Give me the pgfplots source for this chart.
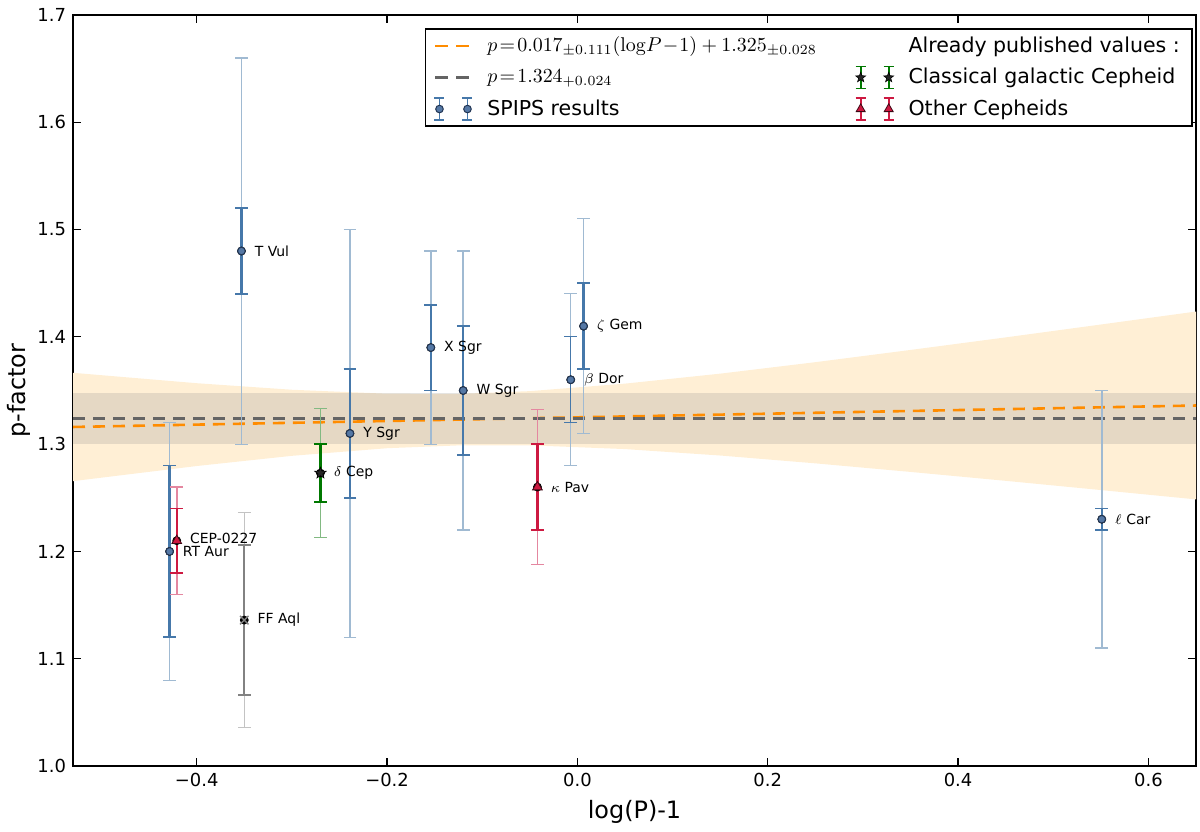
\documentclass[border=0pt]{standalone}
\usepackage[no-math]{fontspec}
\setmainfont{DejaVu Sans}
\usepackage{pgfplots}
\pgfplotsset{compat=1.18}
\usepackage{pgfplotstable}
\usetikzlibrary{calc}

\definecolor{spipsDark}{RGB}{70,120,170}
\definecolor{spipsLight}{RGB}{160,186,210}
\definecolor{spipsMark}{RGB}{85,120,165}
\definecolor{spipsEdge}{RGB}{35,55,85}
\definecolor{crimDark}{RGB}{205,25,65}
\definecolor{crimLight}{RGB}{228,135,160}
\definecolor{grnDark}{RGB}{0,120,0}
\definecolor{grnLight}{RGB}{130,185,130}
\definecolor{gryDark}{RGB}{130,130,130}
\definecolor{gryLight}{RGB}{195,195,195}
\definecolor{dorange}{RGB}{255,140,0}
\definecolor{dimgrey}{RGB}{100,100,100}
\definecolor{bandOrange}{RGB}{255,239,213}

\pgfdeclareplotmark{fstar}{%
  \pgfpathmoveto{\pgfpointpolar{90}{\pgfplotmarksize}}%
  \pgfpathlineto{\pgfpointpolar{126}{0.42\pgfplotmarksize}}%
  \pgfpathlineto{\pgfpointpolar{162}{\pgfplotmarksize}}%
  \pgfpathlineto{\pgfpointpolar{198}{0.42\pgfplotmarksize}}%
  \pgfpathlineto{\pgfpointpolar{234}{\pgfplotmarksize}}%
  \pgfpathlineto{\pgfpointpolar{270}{0.42\pgfplotmarksize}}%
  \pgfpathlineto{\pgfpointpolar{306}{\pgfplotmarksize}}%
  \pgfpathlineto{\pgfpointpolar{342}{0.42\pgfplotmarksize}}%
  \pgfpathlineto{\pgfpointpolar{18}{\pgfplotmarksize}}%
  \pgfpathlineto{\pgfpointpolar{54}{0.42\pgfplotmarksize}}%
  \pgfpathclose\pgfusepathqfillstroke}

% SPIPS results: x = log(P)-1, p-factor, inner (stat) error, outer (total) error
\pgfplotstableread{
x y ei eo
-0.353 1.48 0.04 0.18
-0.239 1.31 0.06 0.19
-0.154 1.39 0.04 0.09
-0.120 1.35 0.06 0.13
0.0065 1.41 0.04 0.10
0.551 1.23 0.01 0.12
-0.4285 1.20 0.08 0.12
}\spips
\pgfplotstableread{
x y ei eo
-0.007 1.36 0.04 0.08
}\bdor
\pgfplotstableread{
x y ei eo
-0.421 1.21 0.03 0.05
-0.042 1.26 0.04 0.072
}\other
\pgfplotstableread{
x y ei eo
-0.270 1.273 0.027 0.06
}\classical
\pgfplotstableread{
x y ei eo
-0.350 1.136 0.07 0.10
}\ffaql

\newcommand\onebar[2]{%
  \draw[#2, line width=0.9bp] (#1,-5.5bp) -- (#1,5.5bp);
  \draw[#2, line width=0.9bp] (#1-2.5bp,-5.5bp) -- (#1+2.5bp,-5.5bp);
  \draw[#2, line width=0.9bp] (#1-2.5bp,5.5bp) -- (#1+2.5bp,5.5bp);}

\begin{document}
\begin{tikzpicture}
\begin{axis}[
  scale only axis, width=561.5bp, height=375.5bp,
  xmin=-0.53, xmax=0.65, ymin=1.0, ymax=1.7,
  xtick={-0.4,-0.2,0,0.2,0.4,0.6},
  xticklabels={−0.4,−0.2,0.0,0.2,0.4,0.6},
  ytick={1.0,1.1,1.2,1.3,1.4,1.5,1.6,1.7},
  yticklabels={1.0,1.1,1.2,1.3,1.4,1.5,1.6,1.7},
  tick label style={font=\fontsize{9}{10}\selectfont},
  major tick length=4bp,
  tick style={black, line width=0.6bp},
  axis line style={line width=1.1bp},
  tick align=inside,
  xlabel={log(P)-1}, ylabel={p-factor},
  label style={font=\fontsize{12}{14}\selectfont},
  xlabel style={at={(axis description cs:0.5,-0.0613)}, anchor=center},
  ylabel style={at={(axis description cs:-0.048,0.5)}, anchor=center},
  legend columns=2,
  legend cell align=left,
  legend style={at={(rel axis cs:0.997,0.983)}, anchor=north east,
    draw=black, line width=0.9bp, font=\fontsize{10.3}{12}\selectfont,
    inner xsep=4bp, inner ysep=2bp, row sep=2.5bp,
    /tikz/every even column/.append style={column sep=17bp},
    /tikz/every odd column/.append style={column sep=5bp}},
]
% confidence band of the linear fit
\addplot[fill=bandOrange, draw=none, forget plot] coordinates {
(-0.53,1.3665) (-0.4,1.3568) (-0.3,1.3507) (-0.2,1.3470) (-0.1226,1.3469)
(-0.05,1.3494) (0.05,1.3564) (0.15,1.3657) (0.25,1.3764) (0.35,1.3878)
(0.45,1.3995) (0.55,1.4115) (0.65,1.4236)
(0.65,1.2485) (0.55,1.2572) (0.45,1.2658) (0.35,1.2741) (0.25,1.2821)
(0.15,1.2894) (0.05,1.2954) (-0.05,1.2989) (-0.1226,1.2989) (-0.2,1.2962)
(-0.3,1.2891) (-0.4,1.2796) (-0.53,1.2655)} -- cycle;
% band of the constant
\addplot[fill=gray, fill opacity=0.2, draw=none, forget plot] coordinates {
(-0.53,1.300) (0.65,1.300) (0.65,1.348) (-0.53,1.348)} -- cycle;
% lines
\addplot[dorange, line width=1.3bp, dash pattern=on 6bp off 4bp, forget plot] coordinates {(-0.53,1.316) (0.65,1.336)};
\addplot[dimgrey, line width=1.3bp, dash pattern=on 6bp off 4bp, forget plot] coordinates {(-0.53,1.324) (0.65,1.324)};

% FF Aql
\addplot[only marks, mark=none, forget plot,
  error bars/.cd, y dir=both, y explicit,
  error bar style={line width=0.8bp, gryLight},
  error mark options={rotate=90, mark size=3.2bp, line width=0.6bp, gryLight}]
  table[x=x, y=y, y error=eo] {\ffaql};
\addplot[only marks, mark=x, mark size=3bp, mark options={gryDark, line width=0.7bp}, forget plot,
  error bars/.cd, y dir=both, y explicit,
  error bar style={line width=1bp, gryDark},
  error mark options={rotate=90, mark size=3.2bp, line width=0.8bp, gryDark}]
  table[x=x, y=y, y error=ei] {\ffaql};

% SPIPS
\addplot[only marks, mark=none, forget plot,
  error bars/.cd, y dir=both, y explicit,
  error bar style={line width=0.8bp, spipsLight},
  error mark options={rotate=90, mark size=3.2bp, line width=0.6bp, spipsLight}]
  table[x=x, y=y, y error=eo] {\spips};
\addplot[only marks, mark=*, mark size=1.9bp, mark options={fill=spipsMark, draw=spipsEdge, line width=0.5bp}, forget plot,
  error bars/.cd, y dir=both, y explicit,
  error bar style={line width=1.1bp, spipsDark},
  error mark options={rotate=90, mark size=3.2bp, line width=0.9bp, spipsDark}]
  table[x=x, y=y, y error=ei] {\spips};
\addplot[only marks, mark=none, forget plot,
  error bars/.cd, y dir=both, y explicit,
  error bar style={line width=0.6bp, spipsLight},
  error mark options={rotate=90, mark size=3.2bp, line width=0.5bp, spipsLight}]
  table[x=x, y=y, y error=eo] {\bdor};
\addplot[only marks, mark=*, mark size=1.9bp, mark options={fill=spipsMark, draw=spipsEdge, line width=0.5bp}, forget plot,
  error bars/.cd, y dir=both, y explicit,
  error bar style={line width=0.6bp, spipsDark},
  error mark options={rotate=90, mark size=3.2bp, line width=0.6bp, spipsDark}]
  table[x=x, y=y, y error=ei] {\bdor};

% classical galactic Cepheid
\addplot[only marks, mark=none, forget plot,
  error bars/.cd, y dir=both, y explicit,
  error bar style={line width=0.8bp, grnLight},
  error mark options={rotate=90, mark size=3.2bp, line width=0.6bp, grnLight}]
  table[x=x, y=y, y error=eo] {\classical};
\addplot[only marks, mark=fstar, mark size=3bp, mark options={fill=black!85, draw=black, line width=0.3bp}, forget plot,
  error bars/.cd, y dir=both, y explicit,
  error bar style={line width=1.1bp, grnDark},
  error mark options={rotate=90, mark size=3.2bp, line width=0.9bp, grnDark}]
  table[x=x, y=y, y error=ei] {\classical};

% other Cepheids
\addplot[only marks, mark=none, forget plot,
  error bars/.cd, y dir=both, y explicit,
  error bar style={line width=0.8bp, crimLight},
  error mark options={rotate=90, mark size=3.2bp, line width=0.6bp, crimLight}]
  table[x=x, y=y, y error=eo] {\other};
\addplot[only marks, mark=triangle*, mark size=2.8bp, mark options={fill=crimDark, draw=black!70!crimDark, line width=0.4bp}, forget plot,
  error bars/.cd, y dir=both, y explicit,
  error bar style={line width=1.1bp, crimDark},
  error mark options={rotate=90, mark size=3.2bp, line width=0.9bp, crimDark}]
  table[x=x, y=y, y error=ei] {\other};

% star names
\begin{scope}[every node/.style={anchor=west, inner sep=0pt, xshift=6.5bp, font=\fontsize{7}{8}\selectfont}]
\node at (axis cs:-0.353,1.48) {T Vul};
\node at (axis cs:-0.154,1.39) {X Sgr};
\node at (axis cs:-0.120,1.35) {W Sgr};
\node at (axis cs:-0.239,1.31) {Y Sgr};
\node at (axis cs:-0.007,1.36) {$\beta$ Dor};
\node at (axis cs:0.0065,1.41) {$\zeta$ Gem};
\node at (axis cs:-0.042,1.26) {$\kappa$ Pav};
\node at (axis cs:0.551,1.23) {$\ell$ Car};
\node at (axis cs:-0.270,1.273) {$\delta$ Cep};
\node at (axis cs:-0.4285,1.20) {RT Aur};
\node at (axis cs:-0.421,1.212) {CEP-0227};
\node at (axis cs:-0.350,1.136) {FF Aql};
\end{scope}

% legend
\addlegendimage{legend image code/.code={\draw[dorange, line width=1.3bp, dash pattern=on 6.5bp off 4bp] (0bp,0bp) -- (17bp,0bp);}}
\addlegendentry{$p\!=\!0.017_{\pm0.111}(\log\!P\!-\!1)+1.325_{\pm0.028}$}
\addlegendimage{empty legend}
\addlegendentry{Already published values :}
\addlegendimage{legend image code/.code={\draw[dimgrey, line width=1.3bp, dash pattern=on 6.5bp off 4bp] (0bp,0bp) -- (17bp,0bp);}}
\addlegendentry{$p\!=\!1.324_{+0.024}$}
\addlegendimage{legend image code/.code={\onebar{2bp}{grnDark}\onebar{16bp}{grnDark}
  \path plot[only marks, mark=fstar, mark size=2.6bp, mark options={fill=black!85, draw=black, line width=0.3bp}] coordinates {(2bp,0bp) (16bp,0bp)};}}
\addlegendentry{Classical galactic Cepheid}
\addlegendimage{legend image code/.code={\onebar{2bp}{spipsDark}\onebar{16bp}{spipsDark}
  \path plot[only marks, mark=*, mark size=1.9bp, mark options={fill=spipsMark, draw=spipsEdge, line width=0.5bp}] coordinates {(2bp,0bp) (16bp,0bp)};}}
\addlegendentry{SPIPS results}
\addlegendimage{legend image code/.code={\onebar{2bp}{crimDark}\onebar{16bp}{crimDark}
  \path plot[only marks, mark=triangle*, mark size=2.6bp, mark options={fill=crimDark, draw=black!70!crimDark, line width=0.4bp}] coordinates {(2bp,0bp) (16bp,0bp)};}}
\addlegendentry{Other Cepheids}
\end{axis}
\pgfresetboundingbox
\path[use as bounding box] ($(current axis.south west)+(-36.5bp,-33bp)$) rectangle ($(current axis.north east)+(2bp,7.5bp)$);
\end{tikzpicture}
\end{document}
